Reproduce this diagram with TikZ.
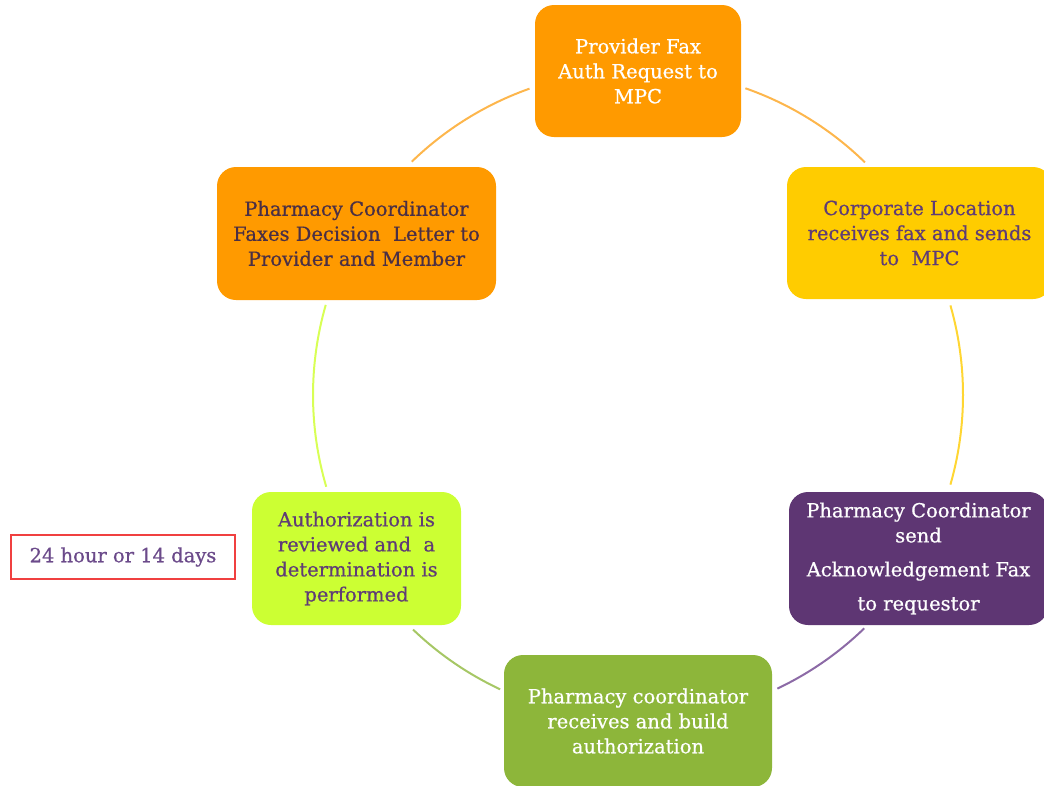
\documentclass[tikz,border=0pt]{standalone}
\usepackage{fontspec}
\setmainfont[FakeBold=0.6,AutoFakeBold=0.6]{DejaVu Serif}
\definecolor{cOrange}{HTML}{FF9A00}
\definecolor{cYellow}{HTML}{FFCC00}
\definecolor{cPurple}{HTML}{5E3673}
\definecolor{cGreen}{HTML}{8DB63A}
\definecolor{cLime}{HTML}{CCFF33}
\definecolor{tPurple}{HTML}{5F3C76}
\definecolor{tDark}{HTML}{4A2F45}
\definecolor{tRed}{HTML}{6B4A8A}
\definecolor{aOrange}{HTML}{FDB64C}
\definecolor{aYellow}{HTML}{FFD633}
\definecolor{aPurple}{HTML}{8C6AA6}
\definecolor{aGreen}{HTML}{A6C765}
\definecolor{aLime}{HTML}{D8FF55}
\definecolor{bRed}{HTML}{F04040}
\tikzset{
  stepbox/.style={rectangle, rounded corners=19pt, align=center, inner sep=0pt,
    font=\fontsize{19.5}{25}\selectfont\bfseries, minimum height=132pt},
  ring/.style={line width=2pt},
}
\begin{document}
\begin{tikzpicture}[x=1pt,y=1pt]
\useasboundingbox (0,0) rectangle (1044,-785);
\coordinate (O) at (638,-395);
% arcs
\draw[ring, aOrange] ([shift={(70.7:325)}]O) arc[start angle=70.7, end angle=45.7, radius=325];
\draw[ring, aYellow] ([shift={(16:325)}]O) arc[start angle=16, end angle=-16, radius=325];
\draw[ring, aPurple] ([shift={(-45.9:325)}]O) arc[start angle=-45.9, end angle=-64.6, radius=325];
\draw[ring, aGreen] ([shift={(244.9:325)}]O) arc[start angle=244.9, end angle=226.2, radius=325];
\draw[ring, aLime] ([shift={(196.4:325)}]O) arc[start angle=196.4, end angle=163.9, radius=325];
\draw[ring, aOrange] ([shift={(134.1:325)}]O) arc[start angle=134.1, end angle=109.5, radius=325];
% boxes
\node[stepbox, fill=cOrange, text=white, minimum width=206pt] (top) at (638,-71)
  {Provider Fax\\Auth Request to\\MPC};
\node[stepbox, fill=cYellow, text=tPurple, minimum width=265pt] (corp) at (919.5,-233)
  {Corporate Location\\receives fax and sends\\to~ MPC};
\node[stepbox, fill=cPurple, text=white, minimum width=259pt, minimum height=133pt] (ack) at (918.5,-558.5)
  {Pharmacy Coordinator\\send\\[9pt]Acknowledgement Fax\\[9pt]to requestor};
\node[stepbox, fill=cGreen, text=white, minimum width=268pt] (build) at (638,-721)
  {Pharmacy coordinator\\receives and build\\authorization};
\node[stepbox, fill=cLime, text=tPurple, minimum width=209pt, minimum height=133pt] (review) at (356.5,-558.5)
  {Authorization is\\reviewed and~ a\\determination is\\performed};
\node[stepbox, fill=cOrange, text=tDark, minimum width=279pt, minimum height=133pt] (decision) at (356.5,-233.5)
  {Pharmacy Coordinator\\Faxes Decision~ Letter to\\Provider and Member};
% time note
\node[draw=bRed, line width=1.3pt, text=tRed, font=\fontsize{19.5}{22}\selectfont\bfseries,
  minimum width=224pt, minimum height=44pt, inner sep=0pt] (time) at (123,-557)
  {24 hour or 14 days};
\end{tikzpicture}
\end{document}
